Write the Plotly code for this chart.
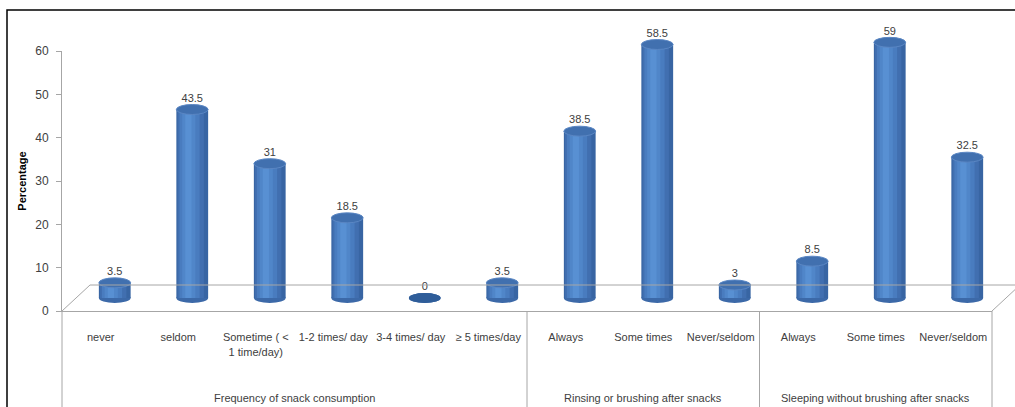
import plotly.graph_objects as go

# ---- data ----
categories = [
    "never", "seldom", "Sometime ( <<br>1 time/day)", "1-2 times/ day",
    "3-4 times/ day", "\u2265 5 times/day",
    "Always", "Some times", "Never/seldom",
    "Always", "Some times", "Never/seldom",
]
values = [3.5, 43.5, 31, 18.5, 0, 3.5, 38.5, 58.5, 3, 8.5, 59, 32.5]
value_labels = ["3.5", "43.5", "31", "18.5", "0", "3.5",
                "38.5", "58.5", "3", "8.5", "59", "32.5"]
groups = ["Frequency of snack consumption",
          "Rinsing or brushing after snacks",
          "Sleeping without brushing after snacks"]
group_sizes = [6, 3, 3]
y_ticks = [0, 10, 20, 30, 40, 50, 60]

# ---- canvas geometry (pixels) ----
W, H = 1015, 407
FONT = "Liberation Sans, Arial, sans-serif"
FS = 11
TXT = "#404040"
AX = "#A6A6A6"


def fx(p):
    return p / W


def fy(p):
    return 1 - p / H


n = len(categories)
xs = list(range(n))

# front plane of the 3-D box (axes) and the plane the cylinders stand in
front_l, front_r, base_y, top_y = 62, 992, 311, 51
px_per_unit = (base_y - top_y) / 60
dx, dy = 14, 13            # depth shift of the cylinders
back_dx, back_dy = 28, 26  # depth of the floor
y2_lo, y2_hi = -3, 66      # room below/above so caps and labels are not clipped

fig = go.Figure()

# invisible trace so the front (labelled) axes are drawn
fig.add_trace(go.Scatter(
    x=xs, y=[0] * n, xaxis="x", yaxis="y", mode="markers",
    marker=dict(opacity=0), hoverinfo="skip", showlegend=False,
))

# cylinder bodies: stacked bars of decreasing width give a shaded look
bar_w = 0.41
layers = [
    (bar_w, 0.0, "#3865A3"),
    (0.34, -0.02, "#416FB0"),
    (0.26, -0.035, "#497CBF"),
    (0.17, -0.045, "#5086C9"),
    (0.08, -0.05, "#5890D3"),
]
for w, c, col in layers:
    fig.add_trace(go.Bar(
        x=xs, y=values, xaxis="x2", yaxis="y2",
        width=[w] * n, offset=[c - w / 2] * n,
        marker=dict(color=col, line=dict(width=0)),
        hoverinfo="skip", showlegend=False,
    ))

# value labels above the caps
cap_r = 1.15
fig.add_trace(go.Scatter(
    x=xs, y=[v + cap_r for v in values], xaxis="x2", yaxis="y2",
    mode="text", text=value_labels, textposition="top center",
    textfont=dict(family=FONT, size=FS, color=TXT),
    cliponaxis=False, hoverinfo="skip", showlegend=False,
))

shapes = []
# cylinder bottoms and tops
for i, v in enumerate(values):
    shapes.append(dict(
        type="circle", xref="x2", yref="y2", layer="below",
        x0=i - bar_w / 2, x1=i + bar_w / 2, y0=-cap_r, y1=cap_r,
        fillcolor="#3C69A8", line=dict(width=0),
    ))
    top_col = "#2F5D99" if v == 0 else "#4170AF"
    shapes.append(dict(
        type="circle", xref="x2", yref="y2", layer="above",
        x0=i - bar_w / 2, x1=i + bar_w / 2, y0=v - cap_r, y1=v + cap_r,
        fillcolor=top_col,
        line=dict(width=0 if v == 0 else 1, color="#5A86C3"),
    ))


def pline(x0, y0, x1, y1, color=AX, width=1):
    shapes.append(dict(type="line", xref="paper", yref="paper",
                       x0=fx(x0), y0=fy(y0), x1=fx(x1), y1=fy(y1),
                       line=dict(color=color, width=width)))


# floor of the 3-D box
pline(front_l + back_dx, base_y - back_dy, W + 2, base_y - back_dy)
pline(front_l, base_y, front_l + back_dx, base_y - back_dy)
pline(front_r, base_y, front_r + back_dx, base_y - back_dy)

# category group dividers below the axis
cat_px = (front_r - front_l) / n
edges = [0]
for s in group_sizes:
    edges.append(edges[-1] + s)
for e in edges:
    xp = front_l + e * cat_px
    pline(xp, base_y, xp, H + 2)

annotations = []
for g, a, b in zip(groups, edges[:-1], edges[1:]):
    annotations.append(dict(
        x=fx(front_l + (a + b) / 2 * cat_px), y=fy(398),
        xref="paper", yref="paper", text=g, showarrow=False,
        xanchor="center", yanchor="middle",
        font=dict(family=FONT, size=FS, color=TXT),
    ))

# outer frame
shapes.append(dict(type="rect", xref="paper", yref="paper",
                   x0=fx(7), y0=-0.05, x1=1.05, y1=fy(10),
                   line=dict(color="#000000", width=1.5)))

bar_base_px = base_y - dy
fig.update_layout(
    width=W, height=H,
    margin=dict(l=0, r=0, t=0, b=0, autoexpand=False),
    paper_bgcolor="white", plot_bgcolor="rgba(0,0,0,0)",
    barmode="overlay",
    shapes=shapes, annotations=annotations,
    xaxis=dict(
        domain=[fx(front_l), fx(front_r)], range=[-0.5, n - 0.5],
        tickmode="array", tickvals=xs, ticktext=categories,
        showline=True, linecolor=AX, linewidth=1,
        ticks="", showgrid=False, zeroline=False,
        ticklabelstandoff=16, automargin=False,
        tickfont=dict(family=FONT, size=FS, color=TXT),
        fixedrange=True,
    ),
    yaxis=dict(
        domain=[fy(base_y), fy(top_y)], range=[0, 60],
        tickmode="array", tickvals=y_ticks,
        showline=True, linecolor=AX, linewidth=1,
        ticks="outside", ticklen=5, tickcolor=AX,
        ticklabelstandoff=5,
        showgrid=False, zeroline=False, automargin=False,
        tickfont=dict(family=FONT, size=12, color=TXT),
        title=dict(text="<b>Percentage</b>", standoff=6,
                   font=dict(family=FONT, size=11, color="#000000")),
        fixedrange=True,
    ),
    xaxis2=dict(
        domain=[fx(front_l + dx), fx(front_r + dx)], range=[-0.5, n - 0.5],
        anchor="y2", visible=False, fixedrange=True, automargin=False,
    ),
    yaxis2=dict(
        domain=[fy(bar_base_px - y2_lo * px_per_unit),
                fy(bar_base_px - y2_hi * px_per_unit)],
        range=[y2_lo, y2_hi],
        anchor="x2", visible=False, fixedrange=True, automargin=False,
    ),
)

fig.write_html("out.html")
